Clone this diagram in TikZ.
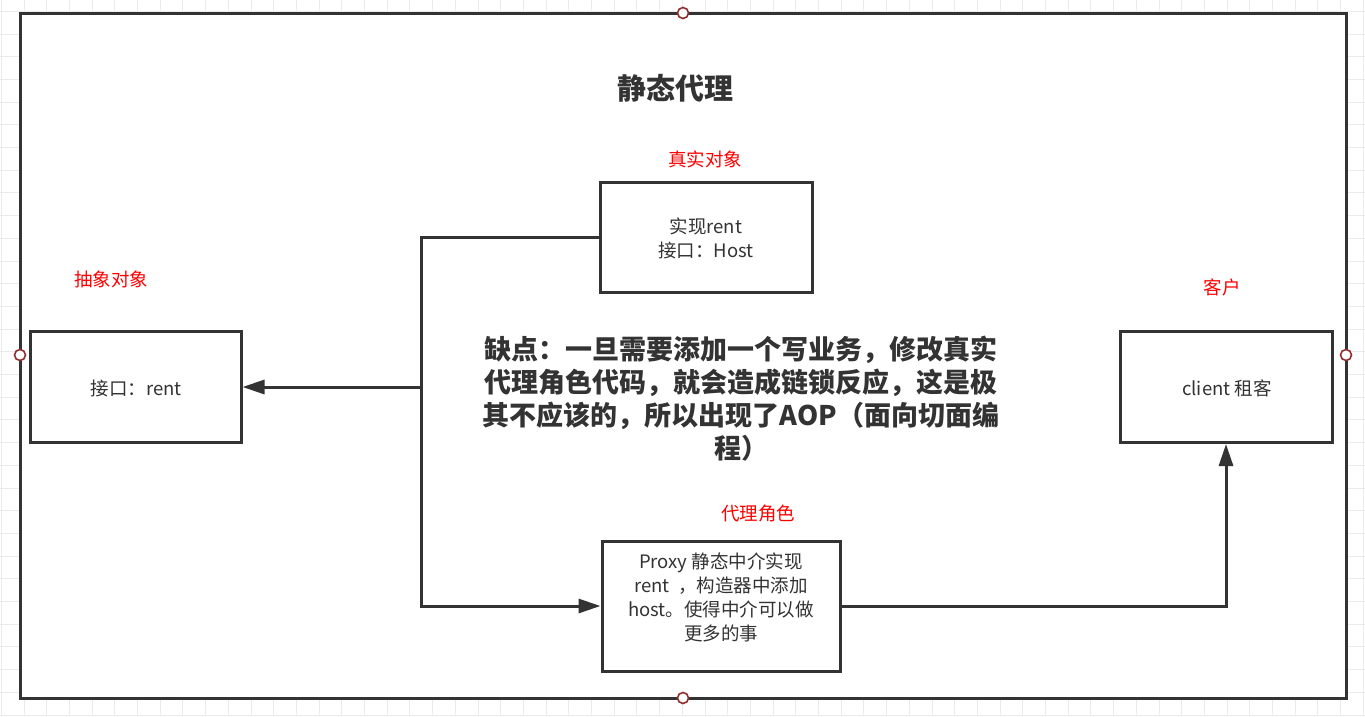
\documentclass[tikz,border=0pt]{standalone}
\usepackage{fontspec}
\setmainfont{Noto Sans CJK SC}
\usepackage{xcolor}
\usetikzlibrary{arrows.meta}
\definecolor{linegray}{HTML}{333333}
\definecolor{gridgray}{HTML}{EBEBEB}
\definecolor{dotred}{HTML}{8E2E2E}
\tikzset{
  box/.style={draw=linegray,line width=3pt,fill=white,inner sep=0pt},
  boxtext/.style={text=linegray,font=\fontsize{18.5}{24}\selectfont,align=center},
  rolelabel/.style={text=red,font=\fontsize{18.5}{24}\selectfont},
  conn/.style={draw=linegray,line width=3pt},
  connarrow/.style={conn,-{Triangle[length=22pt,width=14pt]}},
  handle/.style={circle,draw=dotred,line width=1.6pt,fill=white,minimum size=11pt,inner sep=0pt}
}
\begin{document}
\begin{tikzpicture}[x=1pt,y=-1pt]
\useasboundingbox (0,0) rectangle (1365,716);
% background grid
\foreach \gx in {1.3,24,...,1365} \draw[gridgray,line width=1pt] (\gx,0) -- (\gx,716);
\foreach \gy in {11.3,34,...,716} \draw[gridgray,line width=1pt] (0,\gy) -- (1365,\gy);
% frame
\draw[draw=linegray,fill=white,line width=3pt] (20,13) rectangle (1346,698);
\node[handle] (htop) at (683,13) {};
\node[handle] (hleft) at (20,355) {};
\node[handle] (hright) at (1346,355) {};
\node[handle] (hbottom) at (683,698) {};

\node[text=linegray,font=\fontsize{29}{34}\selectfont\bfseries] (title) at (675,88) {静态代理};

% boxes
\node[box,minimum width=212pt,minimum height=110pt] (real) at (706,237) {};
\node[boxtext] (realtext) at (706,238) {实现rent\\接口：Host};
\node[rolelabel] (reallabel) at (705,159) {真实对象};

\node[box,minimum width=211pt,minimum height=111pt] (abstract) at (135.5,387) {};
\node[boxtext] (abstracttext) at (136,388) {接口：rent};
\node[rolelabel] (abstractlabel) at (111,279) {抽象对象};

\node[box,minimum width=212pt,minimum height=111pt] (client) at (1226,387) {};
\node[boxtext] (clienttext) at (1227,388) {client 租客};
\node[rolelabel] (clientlabel) at (1222,287) {客户};

\node[box,minimum width=238pt,minimum height=130pt] (proxy) at (721,606) {};
\node[boxtext] (proxytext) at (721,597) {Proxy 静态中介实现\\rent \ ，构造器中添加\\host。使得中介可以做\\更多的事};
\node[rolelabel] (proxylabel) at (758,514) {代理角色};

\node[text=linegray,font=\fontsize{27}{33}\selectfont\bfseries,align=center] (drawback) at (741,399)
  {缺点：一旦需要添加一个写业务，修改真实\\代理角色代码，就会造成链锁反应，这是极\\其不应该的，所以出现了AOP（面向切面编\\程）};

% connectors
\coordinate (split) at (421,387);
\draw[conn] (real.west) -| (split);
\draw[connarrow] (split) -- (abstract.east);
\draw[connarrow] (split) |- (proxy.west);
\draw[connarrow] (proxy.east) -| (client.south);
\end{tikzpicture}
\end{document}
